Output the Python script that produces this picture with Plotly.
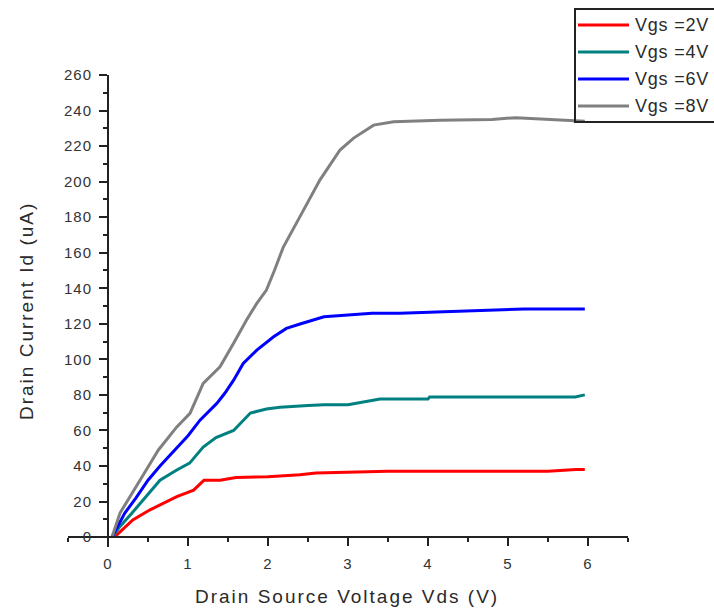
import plotly.graph_objects as go

# ---- data ----
series_names = ["Vgs =2V", "Vgs =4V", "Vgs =6V", "Vgs =8V"]
series_colors = ["#ff0000", "#008080", "#0000ff", "#808080"]

vds_2 = [0.08, 0.2, 0.31, 0.52, 0.7, 0.86, 1.07, 1.2, 1.4, 1.6, 2.0, 2.4, 2.6, 3.0, 3.5, 4.0, 5.0, 5.5, 5.85, 5.96]
id_2 = [0, 5, 9.6, 15.2, 19, 22.7, 26.4, 32, 32, 33.5, 34, 35, 36, 36.5, 37, 37, 37, 37, 38, 38]

vds_4 = [0.05, 0.15, 0.3, 0.48, 0.65, 0.86, 1.02, 1.19, 1.35, 1.57, 1.78, 1.98, 2.15, 2.5, 2.7, 3.0, 3.2, 3.4, 4.0, 4.02, 5.0, 5.84, 5.96]
id_4 = [0, 6, 13.5, 22.7, 32, 37.7, 41.6, 50.6, 56, 60, 69.8, 72, 73, 74, 74.5, 74.5, 76, 77.7, 77.7, 78.8, 78.8, 78.8, 80]

vds_6 = [0.05, 0.12, 0.21, 0.35, 0.5, 0.65, 0.84, 1.0, 1.15, 1.36, 1.46, 1.57, 1.69, 1.86, 2.07, 2.23, 2.4, 2.7, 3.0, 3.3, 3.65, 4.46, 5.2, 5.96]
id_6 = [0, 6, 13.5, 22, 32, 40, 49, 57, 65.8, 75.2, 80.9, 88.3, 97.7, 105.2, 112.7, 117.4, 119.9, 124, 125, 126, 126, 127, 128.3, 128.3]

vds_8 = [0.05, 0.15, 0.4, 0.63, 0.86, 1.025, 1.19, 1.4, 1.57, 1.73, 1.86, 1.98, 2.08, 2.19, 2.42, 2.65, 2.9, 3.07, 3.32, 3.57, 4.15, 4.8, 5.1, 5.5, 5.96]
id_8 = [0, 13.5, 32, 49, 62, 69.6, 86.5, 95.8, 109, 122, 131.5, 139, 150, 163, 182, 201, 217.8, 224.5, 231.8, 233.7, 234.6, 235, 236, 235, 234]

x_ticks = [0, 1, 2, 3, 4, 5, 6]
y_ticks = list(range(0, 261, 20))

x_title = "Drain Source Voltage Vds (V)"
y_title = "Drain Current Id (uA)"

# ---- layout geometry ----
W, H = 714, 609
L, R, T, B = 68, 86, 75, 62
X_RANGE = [-0.5, 6.5]
Y_RANGE = [-5.6, 260.01]
pw, ph = W - L - R, H - T - B


def px_x(p):
    return (p - L) / pw


def px_y(p):
    return (H - B - p) / ph


def spaced(s, sp):
    return f"<span style='letter-spacing:{sp}px'>{s}</span>"


fig = go.Figure()
xs = [vds_2, vds_4, vds_6, vds_8]
ys = [id_2, id_4, id_6, id_8]
for name, color, x, y in zip(series_names, series_colors, xs, ys):
    fig.add_trace(go.Scatter(x=x, y=y, mode="lines", name=name, showlegend=False,
                             line=dict(color=color, width=3)))

axis_color = "#222222"
tick_font = dict(family="Liberation Sans, Arial, sans-serif", size=15, color="#333333")

fig.update_layout(
    width=W, height=H,
    margin=dict(l=L, r=R, t=T, b=B, pad=0),
    paper_bgcolor="white", plot_bgcolor="white",
    showlegend=False,
    xaxis=dict(
        range=X_RANGE, anchor="free",
        position=(0 - Y_RANGE[0]) / (Y_RANGE[1] - Y_RANGE[0]),
        showgrid=False, zeroline=False, showline=True, linecolor=axis_color, linewidth=2,
        ticks="outside", ticklen=8, tickwidth=2, tickcolor=axis_color,
        tickvals=x_ticks, ticktext=[spaced(str(v), 1) for v in x_ticks],
        tickfont=tick_font, ticklabelstandoff=5,
        minor=dict(ticks="outside", ticklen=4, tickwidth=2, tickcolor=axis_color, dtick=0.5, tick0=-0.5),
    ),
    yaxis=dict(
        range=Y_RANGE, anchor="free",
        position=(0 - X_RANGE[0]) / (X_RANGE[1] - X_RANGE[0]),
        showgrid=False, zeroline=False, showline=True, linecolor=axis_color, linewidth=2,
        ticks="outside", ticklen=8, tickwidth=2, tickcolor=axis_color,
        tickvals=y_ticks, ticktext=[spaced(str(v), 1) for v in y_ticks],
        tickfont=tick_font, ticklabelstandoff=4,
        minor=dict(ticks="outside", ticklen=4, tickwidth=2, tickcolor=axis_color, dtick=10, tick0=0),
    ),
)

title_font = dict(family="Liberation Sans, Arial, sans-serif", size=19, color="#2a2a2a")
fig.add_annotation(text=spaced(x_title, 2), xref="paper", yref="paper",
                   x=px_x(347), y=px_y(596), xanchor="center", yanchor="middle",
                   showarrow=False, font=title_font)
fig.add_annotation(text=spaced(y_title, 2), xref="paper", yref="paper",
                   x=px_x(26), y=px_y(311), xanchor="center", yanchor="middle",
                   textangle=-90, showarrow=False, font=title_font)

# ---- legend box (drawn to match the reference's long samples) ----
fig.add_shape(type="rect", xref="paper", yref="paper",
              x0=px_x(575), x1=px_x(730), y0=px_y(122), y1=px_y(9),
              line=dict(color=axis_color, width=2), fillcolor="rgba(0,0,0,0)", layer="above")
row_y = [25, 52, 79, 106]
for name, color, ry in zip(series_names, series_colors, row_y):
    fig.add_shape(type="line", xref="paper", yref="paper",
                  x0=px_x(578), x1=px_x(629), y0=px_y(ry), y1=px_y(ry),
                  line=dict(color=color, width=3))
    fig.add_annotation(text=spaced(name, 0.8), xref="paper", yref="paper",
                       x=px_x(633), y=px_y(ry), xanchor="left", yanchor="middle",
                       showarrow=False,
                       font=dict(family="Liberation Sans, Arial, sans-serif", size=18, color="#2a2a2a"))

fig.write_html("out.html")
